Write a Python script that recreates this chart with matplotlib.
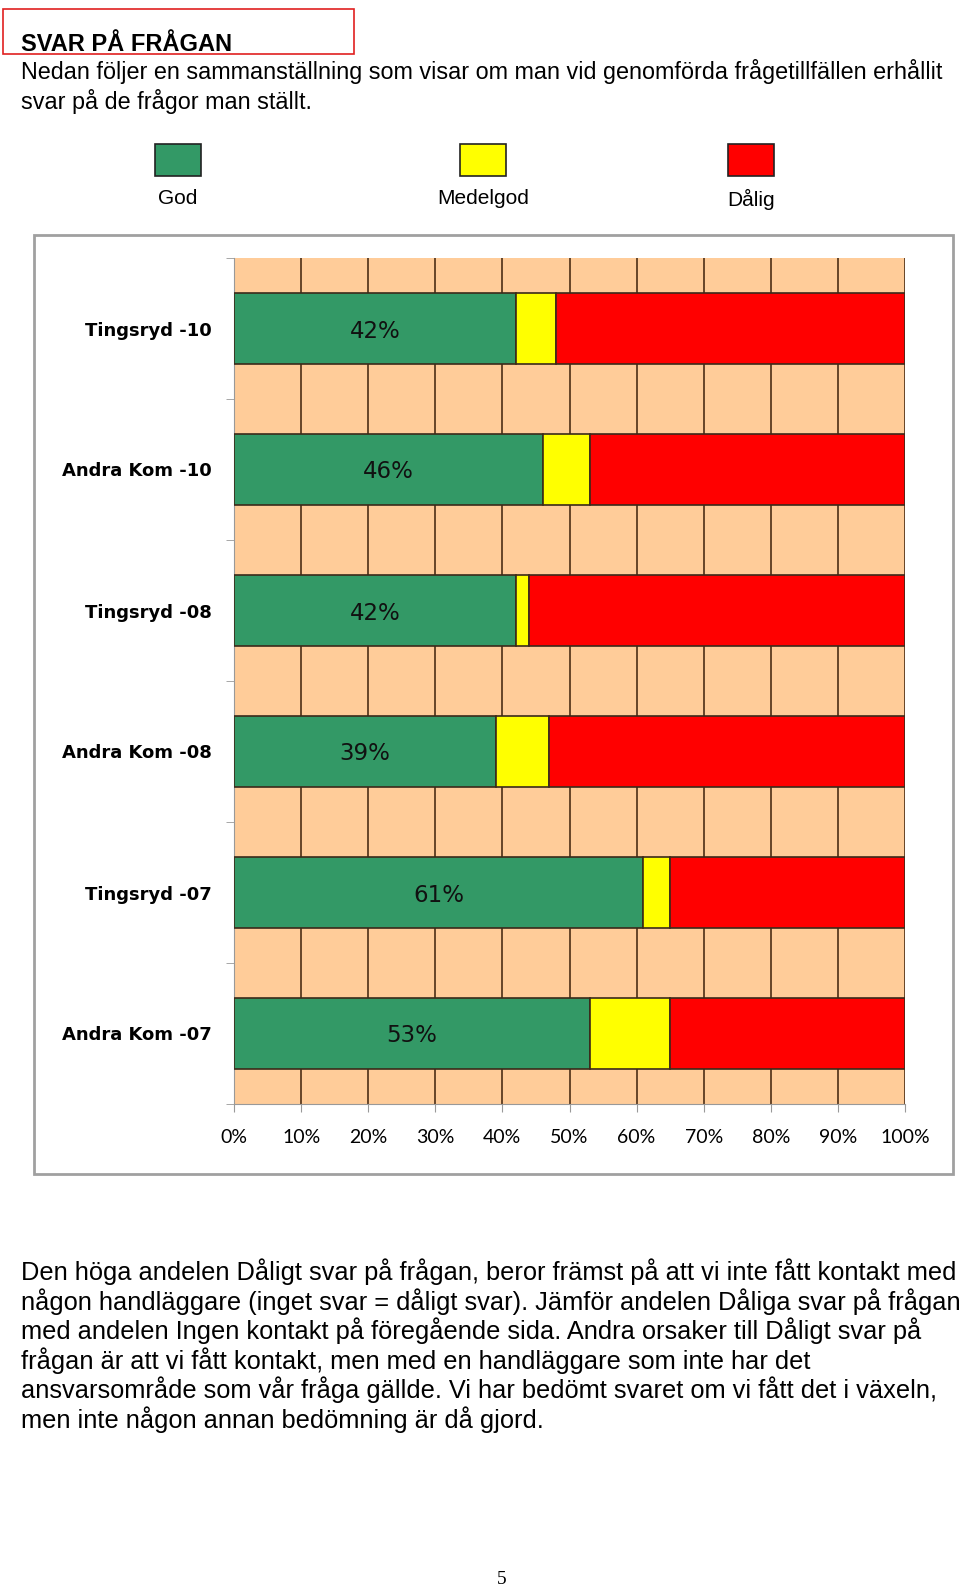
import numpy as np
import matplotlib
matplotlib.use("Agg")
import matplotlib.pyplot as plt
from matplotlib.patches import Rectangle

# data (percent)
categories = ["Tingsryd -10", "Andra Kom -10", "Tingsryd -08",
              "Andra Kom -08", "Tingsryd -07", "Andra Kom -07"]
god = [42, 46, 42, 39, 61, 53]
medelgod = [6, 7, 2, 8, 4, 12]
dalig = [52, 47, 56, 53, 35, 35]
xticks = [0, 10, 20, 30, 40, 50, 60, 70, 80, 90, 100]
legend_labels = ["God", "Medelgod", "Dålig"]
colors = ["#339966", "#FFFF00", "#FF0000"]

W, H = 960, 1589
fig = plt.figure(figsize=(W / 100, H / 100), dpi=100)

def fx(x):
    return x / W

def fy(y):
    return 1 - y / H

body_font = "Liberation Sans"

## header
fig.patches.append(Rectangle((fx(3), fy(54)), fx(351), 45 / H, transform=fig.transFigure,
                             fill=False, edgecolor="#E02020", lw=1.2))
fig.text(fx(21), fy(51), "SVAR PÅ FRÅGAN", fontsize=17, fontweight="bold",
         family=body_font, va="baseline", ha="left")
fig.text(fx(21), fy(72), "Nedan följer en sammanställning som visar om man vid genomförda frågetillfällen erhållit",
         fontsize=16.8, family=body_font, va="center", ha="left")
fig.text(fx(21), fy(101), "svar på de frågor man ställt.",
         fontsize=16.8, family=body_font, va="center", ha="left")

## legend squares (drawn as separate boxes like the original)
leg_x = [178, 483, 751]
for lx, lab, col in zip(leg_x, legend_labels, colors):
    fig.patches.append(Rectangle((fx(lx - 23), fy(176)), 46 / W, 32 / H, transform=fig.transFigure,
                                 facecolor=col, edgecolor="#222222", lw=1.2))
    fig.text(fx(lx), fy(199), lab, fontsize=15, family=body_font, ha="center", va="center")

## chart frame
fig.patches.append(Rectangle((fx(34), fy(1174)), 919 / W, 939 / H, transform=fig.transFigure,
                             fill=False, edgecolor="#A0A0A0", lw=2))

ax = fig.add_axes([fx(234), fy(1104), (905 - 234) / W, (1104 - 258) / H])
ax.set_facecolor("#FFCC99")

y = np.arange(len(categories))
left = np.zeros(len(categories))
for vals, col in zip([god, medelgod, dalig], colors):
    ax.barh(y, vals, left=left, height=0.5, color=col, edgecolor="#3b2a1a", lw=1.2, zorder=3)
    left = left + np.array(vals)

for i, v in enumerate(god):
    ax.text(v / 2, y[i], f"{v}%", ha="center", va="center_baseline", fontsize=16.5,
            family="DejaVu Sans", color="#111111", zorder=4)

ax.set_xlim(0, 100)
ax.set_ylim(len(categories) - 0.5, -0.5)
ax.set_xticks(xticks)
ax.set_xticklabels([f"{t}%" for t in xticks], fontsize=14, family="Lato")
ax.set_yticks(y)
ax.set_yticklabels(categories, fontsize=13, fontweight="bold", family="DejaVu Sans")
ax.set_yticks(np.arange(len(categories) + 1) - 0.5, minor=True)
ax.tick_params(axis="y", which="major", length=0, pad=16)
ax.tick_params(axis="y", which="minor", length=6, color="#999999", direction="out")
ax.tick_params(axis="x", length=6, color="#999999", direction="out", pad=12)
ax.xaxis.grid(True, color="#5a3a20", lw=1.3, zorder=1)
ax.set_axisbelow(True)
for side in ["top", "right"]:
    ax.spines[side].set_visible(False)
ax.spines["left"].set_color("#999999")
ax.spines["bottom"].set_color("#999999")

## bottom paragraph
para = ["Den höga andelen Dåligt svar på frågan, beror främst på att vi inte fått kontakt med",
        "någon handläggare (inget svar = dåligt svar). Jämför andelen Dåliga svar på frågan",
        "med andelen Ingen kontakt på föregående sida. Andra orsaker till Dåligt svar på",
        "frågan är att vi fått kontakt, men med en handläggare som inte har det",
        "ansvarsområde som vår fråga gällde. Vi har bedömt svaret om vi fått det i växeln,",
        "men inte någon annan bedömning är då gjord."]
for k, line in enumerate(para):
    fig.text(fx(21), fy(1272 + k * 29.5), line, fontsize=18.3, family=body_font, ha="left", va="center")

fig.text(fx(502), fy(1580), "5", fontsize=14, family="Liberation Serif", ha="center", va="center")

fig.savefig("out.png", dpi=100)
